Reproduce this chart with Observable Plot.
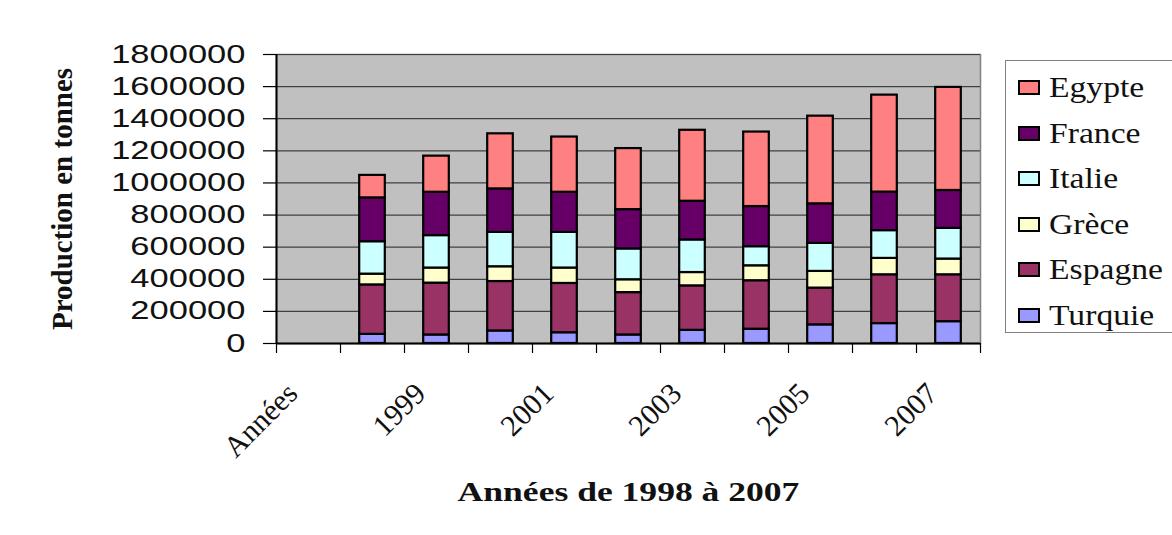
<!DOCTYPE html>
<html><head><meta charset="utf-8">
<script src="https://cdn.jsdelivr.net/npm/d3@7"></script>
<script src="https://cdn.jsdelivr.net/npm/@observablehq/plot@0.6"></script>
<style>
body{margin:0;background:#fff;overflow:hidden}
#wrap{position:relative;width:1172px;height:535px;overflow:hidden;background:#fff}
#legend{position:absolute;left:1005px;top:60px;width:220px;height:273px;border:1px solid #808080;background:#fff;box-sizing:border-box}
.row{position:absolute;left:0;height:45px;display:flex;align-items:center;white-space:nowrap}
.sw{display:inline-block;width:18px;height:11px;border:2px solid #000;margin-left:12px;margin-right:9px}
.lt{display:inline-block;font-family:"Liberation Serif","Times New Roman",serif;font-size:29px;color:#111;transform:scaleX(1.16);transform-origin:left center}
</style></head><body>
<div id="wrap"><div id="chart"></div><div id="legend"></div></div>
<script>
// categories on the x axis (first slot is empty, labelled "Années")
const categories = ["Années","1998","1999","2000","2001","2002","2003","2004","2005","2006","2007"];
const years = ["1998","1999","2000","2001","2002","2003","2004","2005","2006","2007"];
const shownLabels = ["Années","1999","2001","2003","2005","2007"];
const yTicks = [0,200000,400000,600000,800000,1000000,1200000,1400000,1600000,1800000];

// series, bottom to top
const countries = ["Turquie","Espagne","Grèce","Italie","France","Egypte"];
const colors    = ["#9999FF","#993366","#FFFFCC","#CCFFFF","#660066","#FF8080"];
const turquie = [57000,53000,78000,67000,53000,82000,89000,116000,124000,136000];
const espagne = [308000,323000,308000,307000,264000,277000,302000,229000,304000,292000];
const grece   = [67000,94000,92000,96000,80000,83000,93000,104000,102000,98000];
const italie  = [202000,202000,214000,222000,192000,203000,119000,175000,173000,191000];
const france  = [273000,270000,271000,250000,245000,241000,250000,246000,240000,236000];
const egypte  = [140000,225000,343000,344000,380000,442000,464000,546000,604000,642000];

const seriesValues = [turquie, espagne, grece, italie, france, egypte];
const rows = [];
years.forEach((yr, j) => {
  let acc = 0;
  countries.forEach((c, k) => {
    const v = seriesValues[k][j];
    rows.push({year: yr, pos: categories.indexOf(yr), country: c, y1: acc, y2: acc + v});
    acc += v;
  });
});
const labelPos = shownLabels.map(l => categories.indexOf(l) + 0.5);

const chart = Plot.plot({
  width: 1172, height: 535,
  marginLeft: 276, marginRight: 192, marginTop: 54, marginBottom: 192,
  style: {fontFamily: "Liberation Sans, Arial, sans-serif", fontSize: "25px", color: "#111", background: "transparent"},
  x: {type: "linear", domain: [0, categories.length], axis: null},
  y: {domain: [0, 1800000], axis: null},
  color: {domain: countries, range: colors},
  marks: [
    Plot.frame({fill: "#c0c0c0", stroke: "#808080", strokeWidth: 1.5}),
    Plot.gridY(yTicks, {stroke: "#404040", strokeOpacity: 1, strokeWidth: 1.2}),
    Plot.rectY(rows, {x1: d => d.pos + 0.3, x2: d => d.pos + 0.7, y1: "y1", y2: "y2", fill: "country", stroke: "#000", strokeWidth: 2.2}),
    Plot.ruleX([0], {stroke: "#000", strokeWidth: 2}),
    Plot.ruleY([0], {stroke: "#000", strokeWidth: 2}),
    Plot.axisY({ticks: yTicks, tickFormat: d3.format("d"), tickSize: 13, tickPadding: 18, label: null, stroke: "#000", strokeWidth: 1.2}),
    Plot.axisX({ticks: d3.range(categories.length + 1), tickFormat: () => "", tickSize: 10, label: null, stroke: "#000", strokeWidth: 1.2}),
    Plot.axisX({ticks: labelPos, tickFormat: v => categories[Math.floor(v)], tickSize: 0, tickPadding: 45, tickRotate: -45, dx: -16,
      fontFamily: "Liberation Serif, Times New Roman, serif", fontSize: 30, label: null}),
    Plot.text(["Production en tonnes"], {frameAnchor: "left", textAnchor: "middle", rotate: -90, dx: -214, text: d => d,
      fontFamily: "Liberation Serif, Times New Roman, serif", fontWeight: "bold", fontSize: 29, fill: "#111"}),
    Plot.text(["Années de 1998 à 2007"], {frameAnchor: "bottom", dy: 157, text: d => d,
      fontFamily: "Liberation Serif, Times New Roman, serif", fontWeight: "bold", fontSize: 28, fill: "#111"})
  ]
});
document.getElementById("chart").appendChild(chart);

// horizontally widen some texts, as in the reference
function stretch(sel, f) {
  chart.querySelectorAll(sel).forEach(t => {
    const w = t.getComputedTextLength();
    if (w > 0) { t.setAttribute("textLength", w * f); t.setAttribute("lengthAdjust", "spacingAndGlyphs"); }
  });
}
stretch('g[aria-label="y-axis tick label"] text', 1.38);
chart.querySelectorAll('g[aria-label="text"] text').forEach(t => {
  if (t.textContent.startsWith("Années de")) {
    const w = t.getComputedTextLength();
    t.setAttribute("textLength", w * 1.27); t.setAttribute("lengthAdjust", "spacingAndGlyphs");
  }
});

// legend (top to bottom: reverse of stacking order)
const legend = document.getElementById("legend");
countries.slice().reverse().forEach((c, i) => {
  const k = countries.indexOf(c);
  const row = document.createElement("div");
  row.className = "row";
  row.style.top = (4 + i * 45.5) + "px";
  row.innerHTML = `<span class="sw" style="background:${colors[k]}"></span><span class="lt">${c}</span>`;
  legend.appendChild(row);
});
</script>
</body></html>
